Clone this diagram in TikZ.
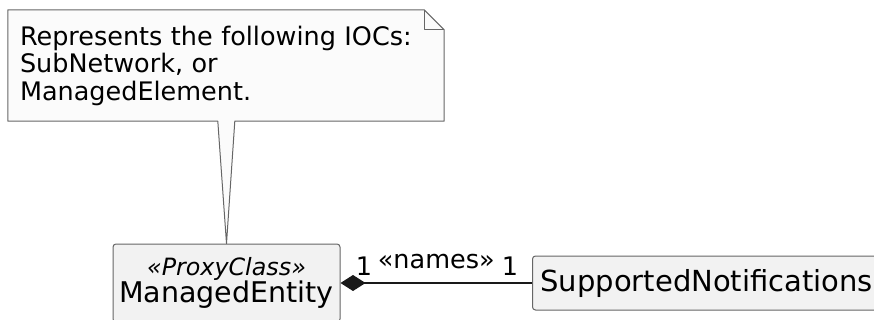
\documentclass[tikz,border=0pt]{standalone}
\usepackage{fontspec}
\setmainfont{DejaVu Sans}
\usepackage{tikz}
\usetikzlibrary{calc,arrows.meta,backgrounds}

\begin{document}
\begin{tikzpicture}[x=1pt, y=-1pt,
    box/.style={draw=black!60, line width=1pt, fill=black!5, rounded corners=3pt, inner sep=0pt},
    notebox/.style={draw=black!60, line width=1pt, fill=black!1.5, line join=round},
    link/.style={draw=black!90, line width=1.2pt, font=\fontsize{25.5}{30}\selectfont}]

    % Fix the size of the picture
    \useasboundingbox (0,0) rectangle (874,320);
    \clip (0,0) rectangle (874,320);

    % Define the size of the folded corner of the note
    \def\fold{20}

    % The note text (its outline is drawn on the background)
    \node[minimum width=436pt, minimum height=111pt, inner xsep=12pt, inner ysep=0pt,
          text width=412pt, align=left, font=\fontsize{25.5}{27.5}\selectfont] (note) at (226,65.5)
        {Represents the following IOCs:\\SubNetwork, or\\ManagedElement.};

    % The two classes
    \node[box, minimum width=227pt, minimum height=78pt, align=center,
          font=\fontsize{28.5}{27}\selectfont] (entity) at (226.5,283)
        {{\fontsize{23.8}{27}\selectfont\itshape «ProxyClass»}\\ManagedEntity};
    \node[box, minimum height=54pt, anchor=west, inner xsep=8pt, text width=340pt, align=left,
          font=\fontsize{29}{34}\selectfont] (notif) at (532,283) {SupportedNotifications};

    % Note outline with its tail down to the class
    \begin{scope}[on background layer]
        \draw[notebox] (note.north west) -- ($(note.north east)+(-\fold,0)$)
            -- ($(note.north east)+(0,\fold)$) -- (note.south east)
            -- ($(note.south west)+(227,0)$) -- (entity.north)
            -- ($(note.south west)+(210,0)$) -- (note.south west) -- cycle;
        \draw[notebox, fill=none] ($(note.north east)+(-\fold,0)$) |- ($(note.north east)+(0,\fold)$);
    \end{scope}

    % Composition between the classes
    \draw[link, {Diamond[length=25pt, width=16pt]}-] (entity.east) --
        node[pos=0.122, anchor=base, yshift=8pt] {1}
        node[midway, anchor=base, yshift=15pt] {«names»}
        node[pos=0.885, anchor=base, yshift=8pt] {1}
        (notif.west);

\end{tikzpicture}
\end{document}
